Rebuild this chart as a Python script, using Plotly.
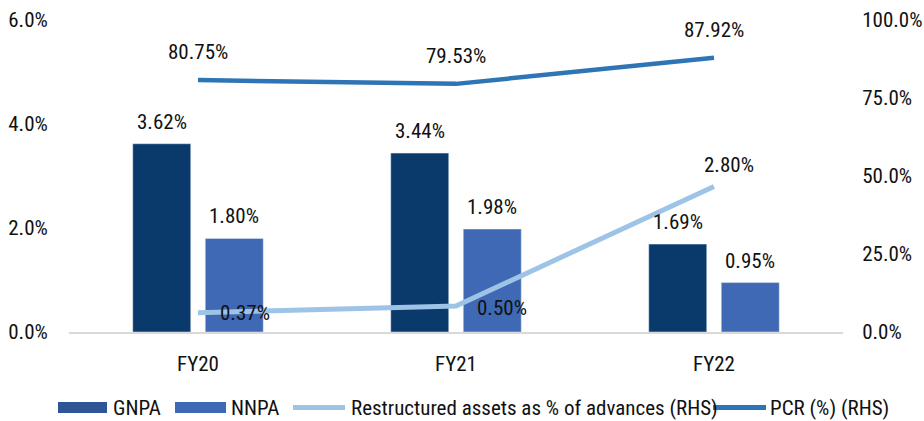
import plotly.graph_objects as go

categories = ["FY20", "FY21", "FY22"]
gnpa = [3.62, 3.44, 1.69]
nnpa = [1.80, 1.98, 0.95]
restructured = [0.37, 0.50, 2.80]
pcr = [80.75, 79.53, 87.92]

left_ticks = [0, 2, 4, 6]
right_ticks = [0, 25, 50, 75, 100]

FONT = "Liberation Sans Narrow, Arial Narrow, Roboto Condensed, DejaVu Sans Condensed, sans-serif"
FS = 21
TXT = "#111111"
C_GNPA = "#0A3A6B"
C_GNPA_LEG = "#2F5597"
C_NNPA = "#3F69B5"
C_RES = "#9DC3E6"
C_PCR = "#2E75B6"

fig = go.Figure()
fig.add_trace(go.Bar(x=categories, y=gnpa, name="GNPA", marker_color=C_GNPA, yaxis="y"))
fig.add_trace(go.Bar(x=categories, y=nnpa, name="NNPA", marker_color=C_NNPA, yaxis="y"))
fig.add_trace(go.Scatter(x=categories, y=restructured, name="Restructured assets as % of advances (RHS)",
                         mode="lines", line=dict(color=C_RES, width=5), yaxis="y"))
fig.add_trace(go.Scatter(x=categories, y=pcr, name="PCR (%) (RHS)",
                         mode="lines", line=dict(color=C_PCR, width=4.5), yaxis="y2"))

ann = []
lab_font = dict(family=FONT, size=FS, color=TXT)
for c, v in zip(categories, gnpa):
    ann.append(dict(x=c, y=v, xref="x", yref="y", text=f"{v:.2f}%", showarrow=False,
                    xshift=-36, yshift=22, font=lab_font))
for c, v in zip(categories, nnpa):
    ann.append(dict(x=c, y=v, xref="x", yref="y", text=f"{v:.2f}%", showarrow=False,
                    xshift=36, yshift=22, font=lab_font))
res_shift = [(47, 0), (46, -2), (15, 21)]
for c, v, (dx, dy) in zip(categories, restructured, res_shift):
    ann.append(dict(x=c, y=v, xref="x", yref="y", text=f"{v:.2f}%", showarrow=False,
                    xshift=dx, yshift=dy, font=lab_font))
for c, v in zip(categories, pcr):
    ann.append(dict(x=c, y=v, xref="x", yref="y2", text=f"{v:.2f}%", showarrow=False,
                    xshift=0, yshift=28, font=lab_font))

# custom legend (paper coords: x 0..1 = plot 69..843 px, y 0..1 = plot 332..20 px)
W, H, L, B = 774.0, 312.0, 69.0, 332.0
def px(x):
    return (x - L) / W
def py(y):
    return (B - y) / H

legend_items = [
    ("GNPA", "rect", C_GNPA_LEG, 58, 107, 111),
    ("NNPA", "rect", C_NNPA, 175, 226, 229),
    ("Restructured assets as % of advances (RHS)", "line", C_RES, 293, 345, 349),
    ("PCR (%) (RHS)", "line", C_PCR, 713, 766, 768),
]
shapes = []
ly = 407.5
for name, kind, col, x0, x1, tx in legend_items:
    if kind == "rect":
        shapes.append(dict(type="rect", xref="paper", yref="paper", x0=px(x0), x1=px(x1),
                           y0=py(413), y1=py(402), fillcolor=col, line=dict(width=0)))
    else:
        shapes.append(dict(type="line", xref="paper", yref="paper", x0=px(x0), x1=px(x1),
                           y0=py(ly), y1=py(ly), line=dict(color=col, width=5)))
    ann.append(dict(x=px(tx), y=py(ly), xref="paper", yref="paper", text=name, showarrow=False,
                    xanchor="left", yanchor="middle", font=lab_font))

fig.update_layout(
    width=924, height=421,
    margin=dict(l=69, r=81, t=20, b=89),
    paper_bgcolor="white", plot_bgcolor="white",
    font=dict(family=FONT, size=FS, color=TXT),
    barmode="group", bargap=0.438, bargroupgap=0.2,
    showlegend=False,
    xaxis=dict(showgrid=False, showline=True, linecolor="#D9D9D9", linewidth=2,
               ticks="outside", ticklen=12, tickcolor="rgba(0,0,0,0)", zeroline=False,
               automargin=False),
    yaxis=dict(range=[0, 6], tickvals=left_ticks, ticktext=[f"{t:.1f}%" for t in left_ticks],
               showgrid=False, zeroline=False, showline=False, automargin=False,
               ticks="outside", ticklen=16, tickcolor="rgba(0,0,0,0)"),
    yaxis2=dict(range=[0, 100], overlaying="y", side="right", tickvals=right_ticks,
                ticktext=[f"{t:.1f}%" for t in right_ticks], automargin=False,
                showgrid=False, zeroline=False, showline=False,
                ticks="outside", ticklen=14, tickcolor="rgba(0,0,0,0)"),
    annotations=ann,
    shapes=shapes,
)
fig.write_html("out.html", config={"displayModeBar": False},
               post_script="document.body.style.margin='0';document.body.style.overflow='hidden';")
